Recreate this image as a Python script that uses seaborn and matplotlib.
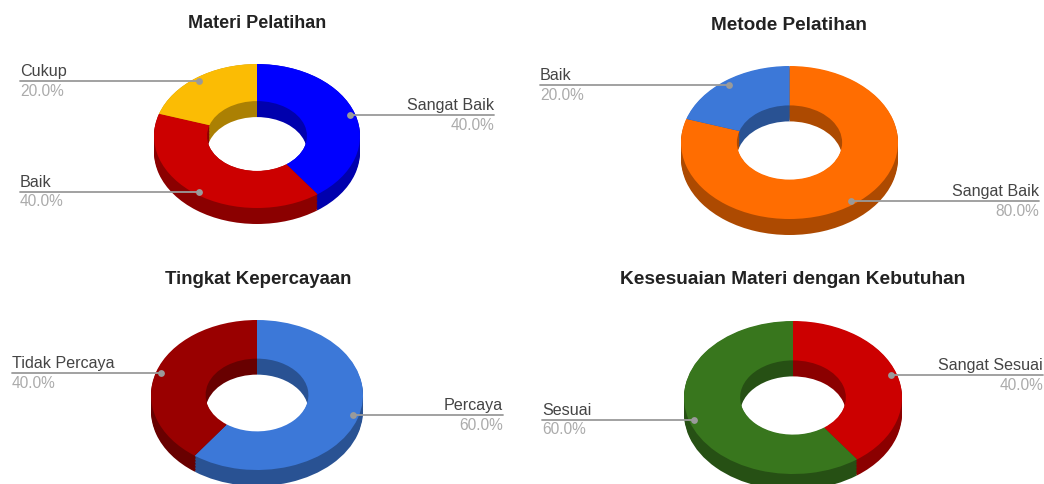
import numpy as np
import matplotlib
matplotlib.use("Agg")
import matplotlib.pyplot as plt
import seaborn as sns
from matplotlib.colors import to_rgb

# data
materi_labels = ["Sangat Baik", "Baik", "Cukup"]
materi_values = [40.0, 40.0, 20.0]
materi_colors = ["#0000FF", "#CC0000", "#FBBC04"]

metode_labels = ["Sangat Baik", "Baik"]
metode_values = [80.0, 20.0]
metode_colors = ["#FF6D01", "#3C78D8"]

percaya_labels = ["Percaya", "Tidak Percaya"]
percaya_values = [60.0, 40.0]
percaya_colors = ["#3C78D8", "#990000"]

sesuai_labels = ["Sangat Sesuai", "Sesuai"]
sesuai_values = [40.0, 60.0]
sesuai_colors = ["#CC0000", "#38761D"]

sns.set_theme(style="white")
plt.rcParams["font.family"] = ["Liberation Sans", "DejaVu Sans"]

W, H = 1044, 484
fig = plt.figure(figsize=(W / 100, H / 100), dpi=100)

HOLE = 0.485
DEPTH = 16
LABEL_COLOR = "#444444"
PCT_COLOR = "#ababab"
LINE_COLOR = "#9a9a9a"


def darken(c, k=0.68):
    return tuple(np.array(to_rgb(c)) * k)


def donut(values, colors, cx, cy, rx, ry):
    # axes placed in pixels, the pie gets squashed by the auto aspect
    pad = 1.1
    left = (cx - rx * pad) / W
    bottom = 1 - (cy + ry * pad + DEPTH) / H
    width = 2 * rx * pad / W
    height = (2 * ry * pad + DEPTH) / H
    ax = fig.add_axes([left, bottom, width, height])
    ax.patch.set_alpha(0)
    d = DEPTH / ry
    dark = [darken(c) for c in colors]
    # stack of darker rings for the side walls
    for off in np.arange(d, 0, -0.02):
        ax.pie(values, colors=dark, startangle=90, counterclock=False,
               center=(0, -off), radius=1, wedgeprops=dict(width=1 - HOLE, linewidth=0))
    ax.pie(values, colors=colors, startangle=90, counterclock=False,
           radius=1, wedgeprops=dict(width=1 - HOLE, linewidth=0))
    ax.set_aspect("auto")
    ax.set_xlim(-pad, pad)
    ax.set_ylim(-pad - d, pad)
    ax.set_axis_off()
    return ax


donut(materi_values, materi_colors, 257, 136, 103, 72)
donut(metode_values, metode_colors, 789.5, 142.5, 108.5, 76.5)
donut(percaya_values, percaya_colors, 257, 395, 106, 75)
donut(sesuai_values, sesuai_colors, 793, 397.5, 109, 76.5)

# overlay in pixel coordinates for titles and callouts
ov = fig.add_axes([0, 0, 1, 1])
ov.set_xlim(0, W)
ov.set_ylim(H, 0)
ov.patch.set_alpha(0)
ov.set_axis_off()


def title(txt, x, y, size):
    ov.text(x, y, txt, ha="center", va="center", fontsize=size, fontweight="bold", color="#222222")


def callout(name, value, y, x_text, x_dot):
    # x_text is the free end of the leader, the text hangs on that end
    ha = "left" if x_text < x_dot else "right"
    sns.lineplot(x=[x_text, x_dot], y=[y, y], ax=ov, color=LINE_COLOR, linewidth=1.3, errorbar=None, sort=False)
    sns.scatterplot(x=[x_dot], y=[y], ax=ov, color=LINE_COLOR, s=24, linewidth=0)
    ov.text(x_text, y - 2, name, ha=ha, va="bottom", fontsize=11.6, color=LABEL_COLOR)
    ov.text(x_text, y + 2.5, f"{value:.1f}%", ha=ha, va="top", fontsize=11.2, color=PCT_COLOR)


title("Materi Pelatihan", 257, 24, 13.0)
title("Metode Pelatihan", 789, 25, 13.7)
title("Tingkat Kepercayaan", 258, 279, 13.4)
title("Kesesuaian Materi dengan Kebutuhan", 793, 279, 13.8)

callout(materi_labels[0], materi_values[0], 115, 494, 350)
callout(materi_labels[1], materi_values[1], 192, 20, 199)
callout(materi_labels[2], materi_values[2], 81, 20, 199)
callout(metode_labels[0], metode_values[0], 201, 1039, 851)
callout(metode_labels[1], metode_values[1], 85, 540, 729)
callout(percaya_labels[0], percaya_values[0], 415, 503, 353)
callout(percaya_labels[1], percaya_values[1], 373, 12, 161)
callout(sesuai_labels[0], sesuai_values[0], 375, 1043, 891)
callout(sesuai_labels[1], sesuai_values[1], 420, 542, 694)

ov.set_xlim(0, W)
ov.set_ylim(H, 0)
fig.savefig("out.png", dpi=100)
